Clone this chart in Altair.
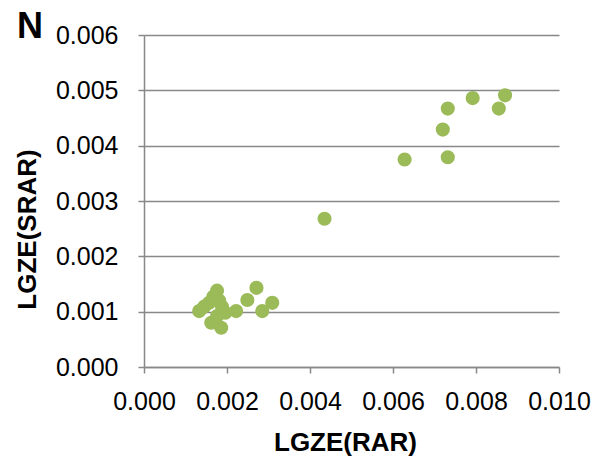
import altair as alt
import pandas as pd

# Data
x_vals = [0.00133, 0.00145, 0.00157, 0.00167, 0.00176, 0.00181, 0.00188, 0.00196,
          0.00176, 0.00162, 0.00186, 0.00222, 0.00249, 0.00271, 0.00285, 0.00309,
          0.00435, 0.00628, 0.00732, 0.00720, 0.00732, 0.00792, 0.00855, 0.00870]
y_vals = [0.00101, 0.00109, 0.00116, 0.00127, 0.00138, 0.00120, 0.00109, 0.00098,
          0.00092, 0.00080, 0.00071, 0.00101, 0.00121, 0.00143, 0.00101, 0.00116,
          0.00268, 0.00375, 0.00379, 0.00429, 0.00467, 0.00486, 0.00467, 0.00491]
x_ticks = [0.000, 0.002, 0.004, 0.006, 0.008, 0.010]
y_ticks = [0.000, 0.001, 0.002, 0.003, 0.004, 0.005, 0.006]
panel_label = ["N"]

df = pd.DataFrame({"x": x_vals, "y": y_vals})

FONT = "Liberation Sans"
GREY = "#888888"

points = alt.Chart(df).mark_circle(size=200, color="#9BBB59", opacity=1).encode(
    x=alt.X("x:Q",
            scale=alt.Scale(domain=[0, 0.010], nice=False, zero=False),
            axis=alt.Axis(values=x_ticks, format=".3f", grid=False,
                          title="LGZE(RAR)", titleFont=FONT, titleFontSize=26,
                          titleFontWeight="bold", titleColor="black",
                          titleX=201, titleY=83,
                          titleAlign="center", titleBaseline="alphabetic",
                          labelFont=FONT, labelFontSize=25, labelColor="black",
                          labelPadding=16, tickSize=6, tickColor=GREY, tickWidth=1.5,
                          domainColor=GREY, domainWidth=1.5, labelFlush=False)),
    y=alt.Y("y:Q",
            scale=alt.Scale(domain=[0, 0.006], nice=False, zero=False),
            axis=alt.Axis(values=y_ticks, format=".3f", grid=True,
                          gridColor=GREY, gridWidth=1.5,
                          title="LGZE(SRAR)", titleFont=FONT, titleFontSize=26,
                          titleFontWeight="bold", titleColor="black",
                          titleX=-109, titleY=194, titleAngle=-90,
                          titleAlign="center", titleBaseline="alphabetic",
                          labelFont=FONT, labelFontSize=25, labelColor="black",
                          labelPadding=20, tickSize=6, tickColor=GREY, tickWidth=1.5,
                          domainColor=GREY, domainWidth=1.5, labelFlush=False)),
)

label = alt.Chart(pd.DataFrame({"t": panel_label})).mark_text(
    font=FONT, fontSize=36, fontWeight="bold", color="black",
    align="left", baseline="alphabetic"
).encode(text="t:N", x=alt.value(-127), y=alt.value(3))

chart = alt.layer(points, label).properties(
    width=415, height=332,
    autosize=alt.AutoSizeParams(type="none"),
    padding={"left": 136, "top": 27, "right": 36, "bottom": 90},
).configure_view(stroke=None)

chart.save("out.html", embed_options={"renderer": "svg", "actions": False})
